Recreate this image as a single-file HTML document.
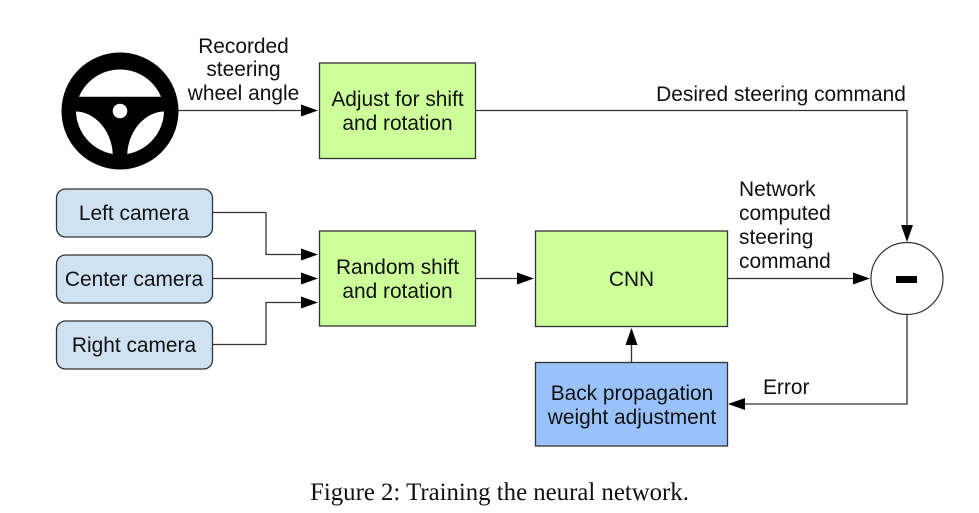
<!DOCTYPE html>
<html><head><meta charset="utf-8"><style>
html,body{margin:0;padding:0;background:#fff;width:979px;height:513px;overflow:hidden}
svg{display:block}
text{font-family:"Liberation Sans",sans-serif;font-size:20.9px;fill:#111}
.b{stroke:#333;stroke-width:1.3}
.l{fill:none;stroke:#333;stroke-width:1.3}
.a{fill:#000;stroke:none}
</style></head><body>
<svg width="979" height="513" viewBox="0 0 979 513" xmlns="http://www.w3.org/2000/svg">
<rect width="979" height="513" fill="#fff"/>
<!-- wheel -->
<circle cx="120" cy="111" r="58.5" fill="#000"/>
<path d="M79 96.7 A44.5 44.5 0 0 1 161 96.7 Z" fill="#fff"/>
<path d="M76 111.5 A44.5 44.5 0 0 0 112.7 154 C112 132 96 112 76 111.5 Z" fill="#fff"/>
<path d="M164 111.5 A44.5 44.5 0 0 1 127.3 154 C128 132 144 112 164 111.5 Z" fill="#fff"/>
<circle cx="120" cy="111" r="7.3" fill="#fff"/>
<!-- boxes -->
<rect class="b" x="319.5" y="63" width="156" height="95.5" fill="#ccff99"/>
<rect class="b" x="319.5" y="231" width="156" height="95" fill="#ccff99"/>
<rect class="b" x="535.5" y="231" width="192" height="95.5" fill="#ccff99"/>
<rect class="b" x="535.5" y="362.5" width="192" height="83.5" fill="#99c2fb"/>
<rect class="b" x="56.5" y="189" width="156" height="48" rx="9" fill="#cfe2f3"/>
<rect class="b" x="56.5" y="255" width="156" height="48" rx="9" fill="#cfe2f3"/>
<rect class="b" x="56.5" y="321" width="156" height="48" rx="9" fill="#cfe2f3"/>
<circle cx="907" cy="278.5" r="36" fill="#fff" stroke="#333" stroke-width="1.2"/>
<rect x="896" y="276" width="21" height="7" fill="#000"/>
<!-- connectors -->
<path class="l" d="M178 110.5H305"/>
<path class="a" d="M301 104.5L318 110.5L301 116.5Z"/>
<path class="l" d="M475.5 110.5H907V228"/>
<path class="a" d="M901 225L907 242L913 225Z"/>
<path class="l" d="M212.5 212.5H266V254.5H305"/>
<path class="a" d="M301 248.5L318 254.5L301 260.5Z"/>
<path class="l" d="M212.5 278.5H305"/>
<path class="a" d="M301 272.5L318 278.5L301 284.5Z"/>
<path class="l" d="M212.5 344.5H266V302.5H305"/>
<path class="a" d="M301 296.5L318 302.5L301 308.5Z"/>
<path class="l" d="M475.5 278.5H522"/>
<path class="a" d="M517 272.5L534 278.5L517 284.5Z"/>
<path class="l" d="M727.5 278.5H858"/>
<path class="a" d="M853 272.5L870 278.5L853 284.5Z"/>
<path class="l" d="M907 314.5V404H742"/>
<path class="a" d="M745 398L728 404L745 410Z"/>
<path class="l" d="M631.5 362.5V342"/>
<path class="a" d="M625.5 345L631.5 328L637.5 345Z"/>
<!-- labels -->
<g text-anchor="middle">
<text x="243.5" y="53">Recorded</text>
<text x="243.5" y="76">steering</text>
<text x="243.5" y="100">wheel angle</text>
<text x="397.5" y="106">Adjust for shift</text>
<text x="397.5" y="130">and rotation</text>
<text x="781" y="101">Desired steering command</text>
<text x="134" y="220">Left camera</text>
<text x="134" y="286">Center camera</text>
<text x="134" y="352">Right camera</text>
<text x="397.5" y="274">Random shift</text>
<text x="397.5" y="298">and rotation</text>
<text x="631.5" y="286">CNN</text>
<text x="632" y="400">Back propagation</text>
<text x="632" y="424">weight adjustment</text>
</g>
<text x="739" y="196">Network</text>
<text x="739" y="220">computed</text>
<text x="739" y="244">steering</text>
<text x="739" y="268">command</text>
<text x="763" y="394">Error</text>
<text x="499.5" y="500" text-anchor="middle" style="font-family:'Liberation Serif',serif;font-size:24.8px">Figure 2: Training the neural network.</text>
</svg>
</body></html>
